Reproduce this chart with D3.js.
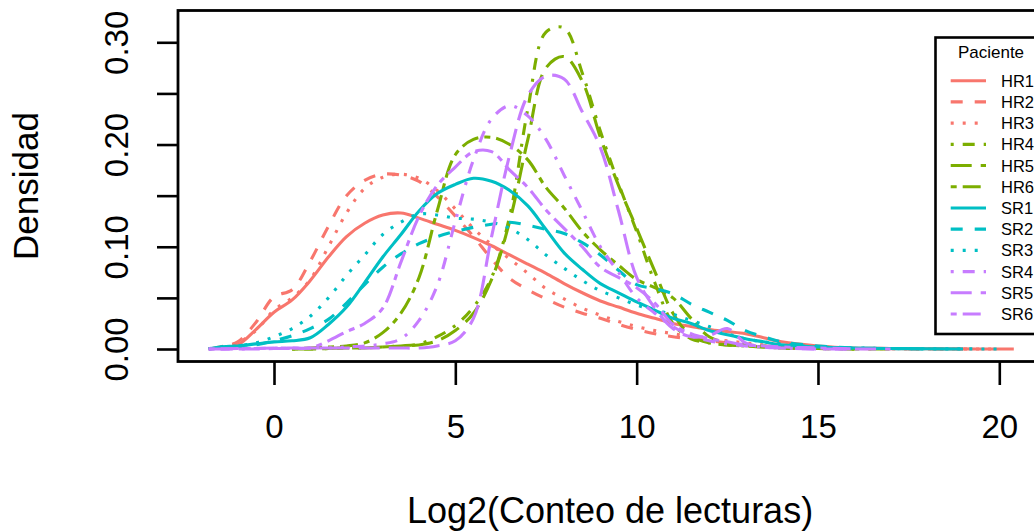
<!DOCTYPE html>
<html>
<head>
<meta charset="utf-8">
<script src="https://cdn.jsdelivr.net/npm/d3@7"></script>
<style>
  body { margin: 0; background: #fff; }
  svg { display: block; font-family: "Liberation Sans", Arial, Helvetica, sans-serif; }
</style>
</head>
<body>
<svg width="1034" height="531"></svg>
<script>
// log2 counts grid the densities were read at
var gridX = [-1.8, -1.5, -1, -0.5, 0, 0.5, 1, 1.5, 2, 2.5, 3, 3.5, 4, 4.5, 5, 5.5, 6, 6.5, 7, 7.5,
             8, 8.5, 9, 9.5, 10, 10.5, 11, 11.5, 12, 12.5, 13, 13.5, 14, 15, 16, 17, 18, 19, 20, 20.4];

var samples = ["HR1", "HR2", "HR3", "HR4", "HR5", "HR6", "SR1", "SR2", "SR3", "SR4", "SR5", "SR6"];
var sampleColors = ["#F8766D", "#F8766D", "#F8766D", "#7CAE00", "#7CAE00", "#7CAE00",
                    "#00BFC4", "#00BFC4", "#00BFC4", "#C77CFF", "#C77CFF", "#C77CFF"];
var sampleLty = ["solid", "dashed", "dotted", "dotdash", "longdash", "twodash",
                 "solid", "dashed", "dotted", "dotdash", "longdash", "twodash"];

var N = null;
var HR1 = [0, .001, .004, .019, .036, .048, .067, .09, .11, .123, .131, .133, .128, .122, .116, .109, .101, .092, .083, .074,
           .064, .055, .047, .041, .035, .030, .025, .022, .019, .017, .015, .011, .007, .003, .001, .0005, .0002, .0001, 0, 0];
var HR2 = [0, .002, .007, .026, .051, .058, .086, .12, .15, .165, .171, .17, .164, .149, .13, .11, .088, .069, .058, .049,
           .041, .035, .03, .024, .019, .015, .012, .01, .008, .006, .004, .003, .002, .001, .0005, .0002, .0001, 0, N, N];
var HR3 = [0, .002, .006, .018, .038, .05, .068, .1, .133, .157, .168, .171, .167, .155, .137, .118, .102, .088, .074, .059,
           .049, .04, .033, .027, .022, .018, .015, .012, .01, .008, .006, .004, .003, .001, .0005, .0002, .0001, 0, 0, N];
var HR4 = [N, N, N, N, N, 0, 0, .0005, .001, .001, .002, .003, .005, .012, .023, .041, .07, .13, .235, .31,
           .314, .27, .213, .162, .115, .065, .025, .01, .006, .004, .003, .002, .001, .0005, 0, N, N, N, N, N];
var HR5 = [N, N, N, N, N, 0, 0, .0005, .001, .001, .002, .003, .004, .008, .018, .035, .068, .125, .205, .275,
           .286, .262, .207, .16, .118, .076, .035, .013, .006, .004, .003, .002, .001, .0005, 0, 0, N, N, N, N];
var HR6 = [N, N, N, N, N, 0, .001, .002, .003, .006, .016, .035, .07, .135, .19, .205, .207, .2, .185, .158,
           .138, .115, .097, .082, .068, .06, .05, .03, .012, .006, .004, .003, .002, .001, 0, N, N, N, N, N];
var SR1 = [0, .002, .003, .005, .007, .008, .011, .024, .041, .065, .09, .112, .135, .152, .161, .167, .164, .155, .14, .117,
           .094, .078, .064, .055, .046, .038, .03, .025, .018, .014, .01, .007, .004, .002, .001, .0005, .0002, 0, N, N];
var SR2 = [0, .001, .002, .004, .008, .013, .02, .029, .045, .063, .08, .093, .103, .11, .115, .119, .122, .124, .121, .117,
           .113, .104, .092, .077, .063, .059, .054, .044, .036, .028, .018, .012, .007, .003, .001, .0005, 0, N, N, N];
var SR3 = [0, .002, .003, .006, .012, .02, .032, .05, .072, .092, .112, .124, .132, .131, .128, .127, .124, .118, .107, .092,
           .079, .067, .057, .05, .043, .038, .034, .028, .022, .015, .01, .007, .005, .002, .001, .0005, .0002, .0001, 0, N];
var SR4 = [0, 0, 0, .0005, .001, .001, .001, .001, .002, .003, .005, .01, .028, .062, .125, .185, .225, .238, .228, .205,
           .17, .135, .1, .075, .05, .035, .022, .013, .008, .005, .003, .002, .001, 0, 0, N, N, N, N, N];
var SR5 = [0, 0, 0, 0, .0005, .0005, .001, .001, .001, .001, .001, .001, .001, .003, .008, .03, .11, .19, .248, .267,
           .264, .232, .197, .135, .07, .04, .02, .012, .013, .02, .006, .002, .001, 0, 0, 0, N, N, N, N];
var SR6 = [0, 0, .0005, .0005, .001, .001, .001, .008, .017, .025, .04, .085, .13, .16, .178, .193, .193, .175, .158, .136,
           .118, .1, .08, .07, .06, .045, .024, .015, .01, .007, .004, .003, .002, .001, 0, N, N, N, N, N];

var densities = [HR1, HR2, HR3, HR4, HR5, HR6, SR1, SR2, SR3, SR4, SR5, SR6];

var xTicks = [0, 5, 10, 15, 20];
var yTicks = [0, 0.05, 0.10, 0.15, 0.20, 0.25, 0.30];
var yTickLabels = {0: "0.00", 0.1: "0.10", 0.2: "0.20", 0.3: "0.30"};

// R lty patterns, scaled by the line width
var dashes = {
    solid: null,
    dashed: "12,12",
    dotted: "3,9",
    dotdash: "3,9,12,9",
    longdash: "21,9",
    twodash: "6,6,18,6"
};

var svg = d3.select("svg");
svg.append("rect").attr("width", 1034).attr("height", 531).attr("fill", "#fff");

var x = d3.scaleLinear().domain([0, 20]).range([274, 999.3]);
var y = d3.scaleLinear().domain([0, 0.3]).range([349, 42.3]);

var line = d3.line()
    .defined(function(d){ return d[1] != null; })
    .x(function(d){ return x(d[0]); })
    .y(function(d){ return y(d[1]); })
    .curve(d3.curveCatmullRom.alpha(0.5));

var plot = svg.append("g");
densities.forEach(function(vals, i){
    var pts = gridX.map(function(gx, j){ return [gx, vals[j]]; });
    plot.append("path")
        .attr("d", line(pts))
        .attr("fill", "none")
        .attr("stroke", sampleColors[i])
        .attr("stroke-width", 3.1)
        .attr("stroke-dasharray", dashes[sampleLty[i]])
        .attr("stroke-linejoin", "round");
});

// box
svg.append("rect")
    .attr("x", 178).attr("y", 10.5)
    .attr("width", 900).attr("height", 351)
    .attr("fill", "none").attr("stroke", "#000").attr("stroke-width", 2.8);

// x axis
var xa = svg.append("g")
    .attr("transform", "translate(0,362)")
    .call(d3.axisBottom(x).tickValues(xTicks).tickSize(23).tickPadding(0).tickFormat(function(d){ return d; }));
xa.select(".domain").remove();
xa.selectAll("line").attr("stroke", "#000").attr("stroke-width", 2.6);
xa.selectAll("text")
    .attr("y", 0).attr("dy", 0)
    .attr("transform", "translate(0,76)")
    .attr("font-size", 33).attr("fill", "#000")
    .style("font-family", "Liberation Sans, Arial, sans-serif");

// y axis
var ya = svg.append("g")
    .attr("transform", "translate(178,0)")
    .call(d3.axisLeft(y).tickValues(yTicks).tickSize(21)
        .tickFormat(function(d){ var k = Math.round(d * 100) / 100; return yTickLabels[k] || ""; }));
ya.select(".domain").remove();
ya.selectAll("line").attr("stroke", "#000").attr("stroke-width", 2.6);
ya.selectAll("text")
    .attr("x", 0).attr("dy", 0)
    .attr("text-anchor", "middle")
    .attr("transform", "translate(-50,0) rotate(-90)")
    .attr("font-size", 33).attr("fill", "#000")
    .style("font-family", "Liberation Sans, Arial, sans-serif");

// axis titles
svg.append("text")
    .attr("x", 610).attr("y", 523)
    .attr("text-anchor", "middle")
    .attr("font-size", 36)
    .text("Log2(Conteo de lecturas)");

svg.append("text")
    .attr("transform", "translate(38,186) rotate(-90)")
    .attr("text-anchor", "middle")
    .attr("font-size", 35)
    .text("Densidad");

// legend
var lg = svg.append("g");
lg.append("rect")
    .attr("x", 935.5).attr("y", 37.5)
    .attr("width", 130).attr("height", 296.5)
    .attr("fill", "#fff").attr("stroke", "#000").attr("stroke-width", 2.6);
lg.append("text")
    .attr("x", 991).attr("y", 57.5)
    .attr("text-anchor", "middle")
    .attr("font-size", 17)
    .text("Paciente");

var ly = d3.scaleLinear().domain([0, samples.length - 1]).range([80.7, 314]);
samples.forEach(function(s, i){
    lg.append("line")
        .attr("x1", 950.7).attr("x2", 986)
        .attr("y1", ly(i)).attr("y2", ly(i))
        .attr("stroke", sampleColors[i])
        .attr("stroke-width", 3.1)
        .attr("stroke-dasharray", dashes[sampleLty[i]]);
    lg.append("text")
        .attr("x", 1001).attr("y", ly(i) + 6)
        .attr("font-size", 16.5)
        .text(s);
});
</script>
</body>
</html>
